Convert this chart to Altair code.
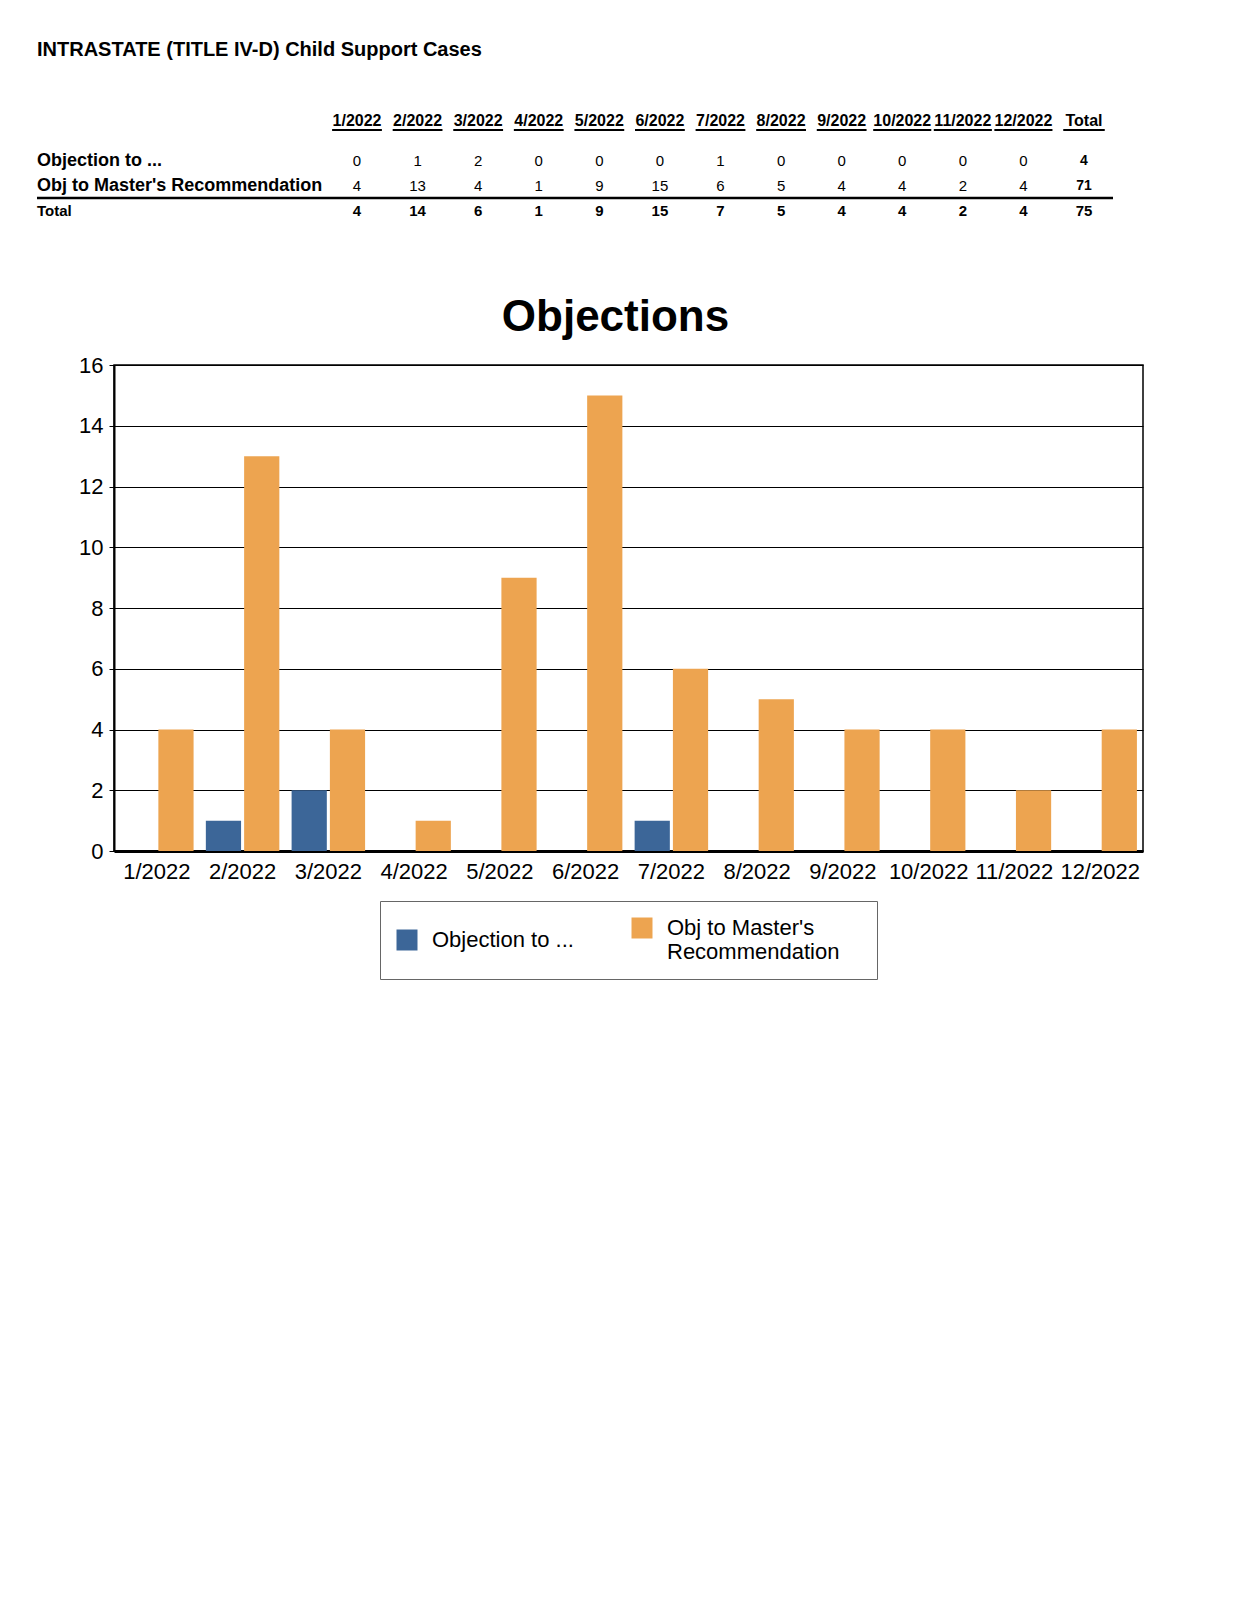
import altair as alt
import pandas as pd

FONT = "Liberation Sans"

# ---------------- data ----------------
months = ["1/2022", "2/2022", "3/2022", "4/2022", "5/2022", "6/2022",
          "7/2022", "8/2022", "9/2022", "10/2022", "11/2022", "12/2022"]
series = ["Objection to ...", "Obj to Master's Recommendation"]
objection = [0, 1, 2, 0, 0, 0, 1, 0, 0, 0, 0, 0]
master = [4, 13, 4, 1, 9, 15, 6, 5, 4, 4, 2, 4]
total_label = "Total"
table_title = "INTRASTATE (TITLE IV-D) Child Support Cases"
chart_title = "Objections"
y_ticks = [0, 2, 4, 6, 8, 10, 12, 14, 16]
colors = ["#3c6698", "#eda450"]

# ---------------- derived tables ----------------
bars = pd.DataFrame([
    {"month": m, "series": s, "value": v}
    for s, vals in zip(series, [objection, master])
    for m, v in zip(months, vals)
])

rows = series + [total_label]
cols = months + [total_label]
totals = [a + b for a, b in zip(objection, master)]
cells = []
for r, vals in zip(rows, [objection, master, totals]):
    is_total_row = r == total_label
    for c, v in zip(months, vals):
        cells.append({"row": r, "col": c, "val": str(v),
                      "kind": "total_row" if is_total_row else "cell"})
    cells.append({"row": r, "col": total_label, "val": str(sum(vals)),
                  "kind": "total_row" if is_total_row else "total_col"})
cells_df = pd.DataFrame(cells)
headers_df = pd.DataFrame({"col": cols})
rowlab_df = pd.DataFrame({"row": rows})
title_df = pd.DataFrame({"t": [table_title]})
one_df = pd.DataFrame({"a": [0]})

# ---------------- table ----------------
X_T = alt.X("col:N", scale=alt.Scale(type="point", domain=cols, range=[243, 970], padding=0), axis=None)
Y_T = alt.Y("row:N", scale=alt.Scale(type="point", domain=rows, range=[131, 181], padding=0), axis=None)

t_title = alt.Chart(title_df).mark_text(
    align="left", baseline="alphabetic", font=FONT, fontSize=20, fontWeight="bold", color="black"
).encode(x=alt.value(-77), y=alt.value(26), text="t:N")

t_head = alt.Chart(headers_df).mark_text(
    font=FONT, fontSize=16, fontWeight="bold", baseline="middle", color="black"
).encode(x=X_T, y=alt.value(91), text="col:N")

t_ul = alt.Chart(headers_df).transform_calculate(
    w="length(datum.col) * 8.3"
).mark_tick(orient="horizontal", thickness=2, color="black", opacity=1).encode(
    x=X_T, y=alt.value(100), size=alt.Size("w:Q", scale=None)
)

t_cells = alt.Chart(cells_df).transform_filter("datum.kind == 'cell'").mark_text(
    font=FONT, fontSize=15, baseline="middle", color="black"
).encode(x=X_T, y=Y_T, text="val:N")

t_trow = alt.Chart(cells_df).transform_filter("datum.kind == 'total_row'").mark_text(
    font=FONT, fontSize=15, fontWeight="bold", baseline="middle", color="black"
).encode(x=X_T, y=Y_T, text="val:N")

t_tcol = alt.Chart(cells_df).transform_filter("datum.kind == 'total_col'").mark_text(
    font=FONT, fontSize=14, fontWeight="bold", baseline="middle", color="black"
).encode(x=X_T, y=Y_T, text="val:N")

t_rowlab = alt.Chart(rowlab_df).transform_filter(f"datum.row != '{total_label}'").mark_text(
    align="left", font=FONT, fontSize=18, fontWeight="bold", baseline="middle", color="black"
).encode(x=alt.value(-77), y=Y_T, text="row:N")

t_rowlab_tot = alt.Chart(rowlab_df).transform_filter(f"datum.row == '{total_label}'").mark_text(
    align="left", font=FONT, fontSize=15, fontWeight="bold", baseline="middle", color="black"
).encode(x=alt.value(-77), y=Y_T, text="row:N")

t_rule = alt.Chart(one_df).mark_rule(color="black", strokeWidth=2.5).encode(
    x=alt.value(-77), x2=alt.value(999), y=alt.value(168)
)

table = alt.layer(
    t_title, t_head, t_ul, t_cells, t_trow, t_tcol, t_rowlab, t_rowlab_tot, t_rule
).properties(width=1029, height=190, view=alt.ViewBackground(strokeWidth=0))

# ---------------- bar chart ----------------
bar = alt.Chart(bars).mark_bar().encode(
    x=alt.X("month:N", sort=months,
            scale=alt.Scale(domain=months, paddingInner=0.143, paddingOuter=0.071),
            axis=alt.Axis(title=None, labelAngle=0, labelFont=FONT, labelFontSize=22,
                          labelColor="black", labelPadding=10, ticks=False,
                          domainColor="black", domainWidth=3, labelOverlap=False,
                          labelLimit=200)),
    xOffset=alt.XOffset("series:N", sort=series,
                        scale=alt.Scale(domain=series, paddingInner=0.08)),
    y=alt.Y("value:Q", scale=alt.Scale(domain=[0, 16], nice=False),
            axis=alt.Axis(title=None, values=y_ticks, grid=True, gridColor="black",
                          gridWidth=1, gridOpacity=1, tickColor="black", tickSize=5,
                          labelFont=FONT, labelFontSize=22, labelColor="black",
                          labelPadding=6, domainColor="black", domainWidth=2)),
    color=alt.Color("series:N", sort=series,
                    scale=alt.Scale(domain=series, range=colors),
                    legend=alt.Legend(
                        title=" ", titleOrient="right", titlePadding=22,
                        titleFontSize=22, titleFont=FONT,
                        orient="none", legendX=266, legendY=871,
                        direction="horizontal", columns=2, symbolType="square",
                        symbolSize=441, symbolStrokeWidth=0, symbolOpacity=1,
                        labelFont=FONT, labelFontSize=22, labelColor="black",
                        labelOffset=14, columnPadding=57, padding=16,
                        strokeColor="#666666", labelLimit=400,
                        labelExpr="split(replace(datum.label, \" Recommendation\", \"|Recommendation\"), '|')")),
).properties(
    width=1029, height=486,
    title=alt.TitleParams(chart_title, fontSize=44, font=FONT, fontWeight="bold",
                          color="black", anchor="middle", offset=-21, dx=-13,
                          baseline="alphabetic"),
    view=alt.ViewBackground(stroke="black", strokeWidth=1.5),
)

chart = alt.vconcat(table, bar, spacing=75).properties(
    padding={"left": 27, "top": 22, "right": 5, "bottom": 5}
).configure(font=FONT, background="white")

chart.save("out.html", embed_options={"renderer": "svg", "actions": False})
